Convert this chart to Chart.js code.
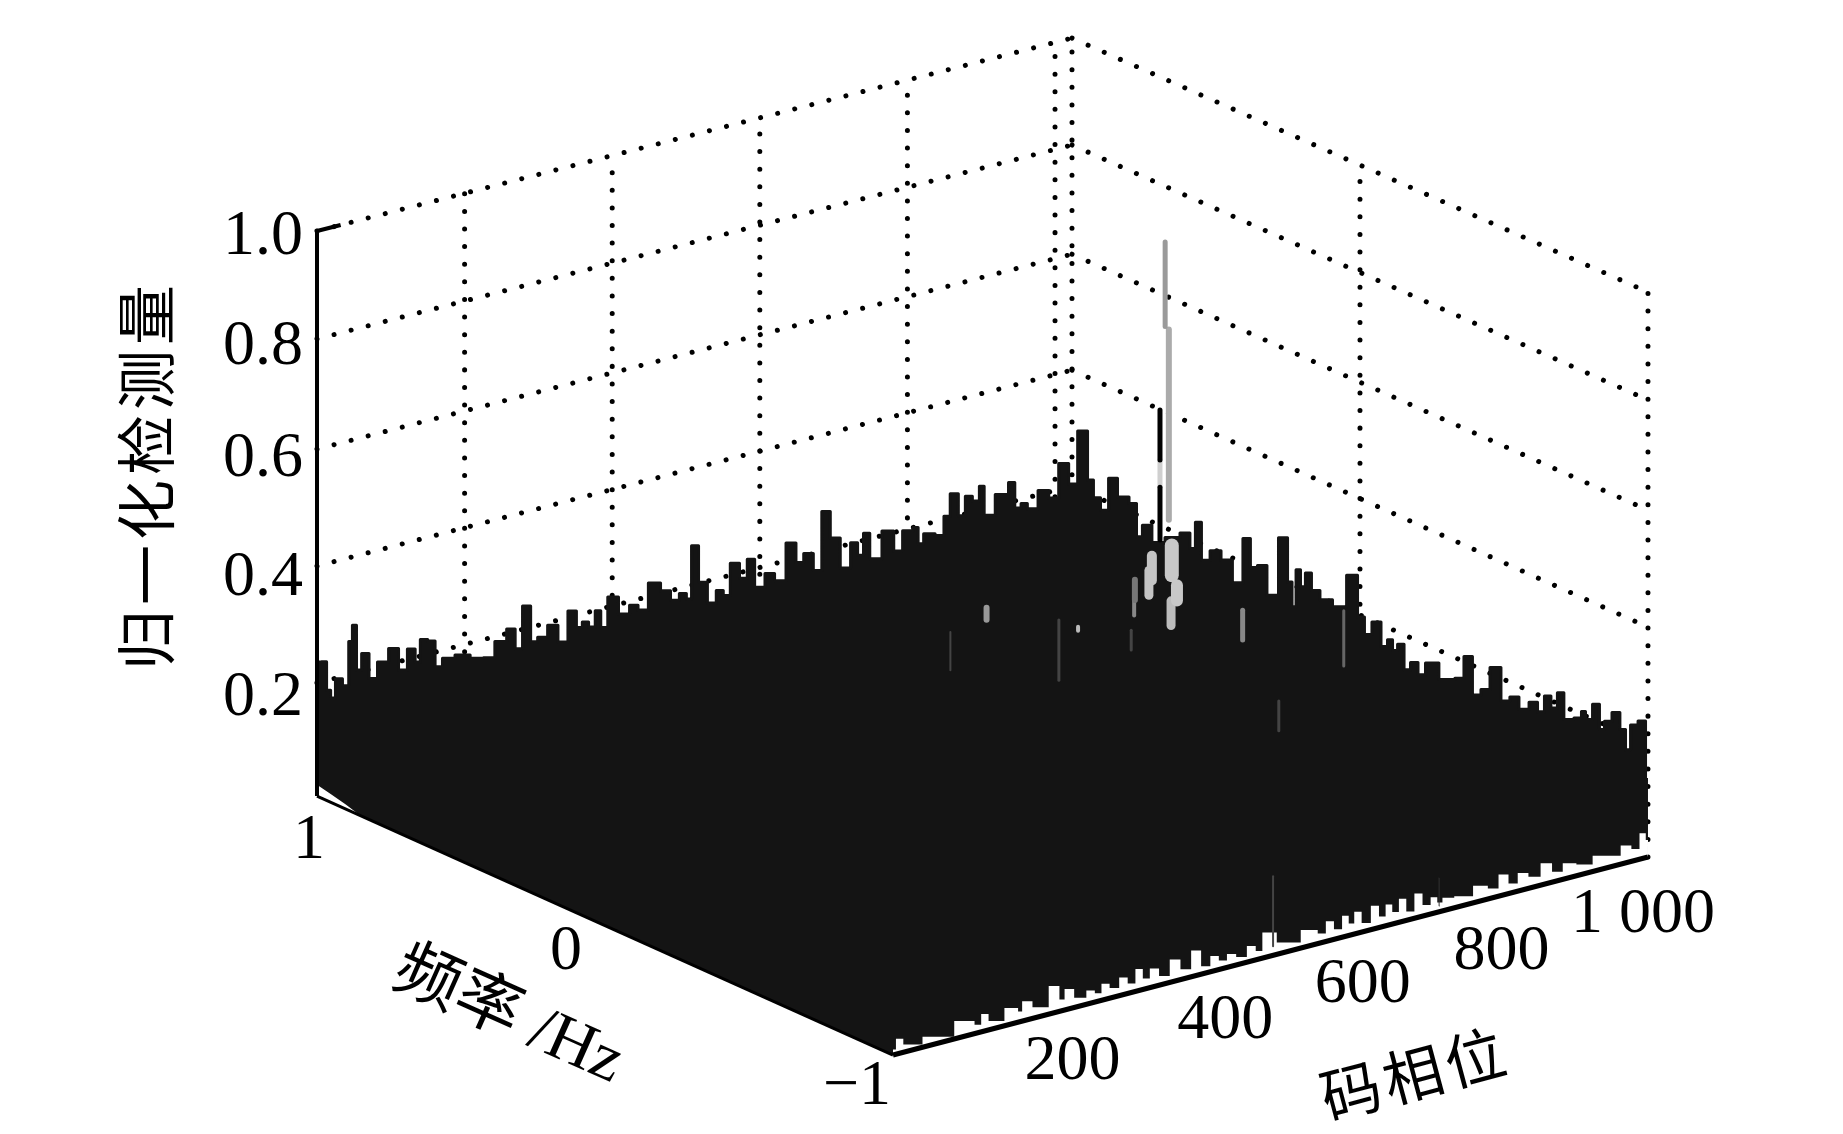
<!DOCTYPE html>
<html>
<head>
<meta charset="utf-8">
<style>
  html, body { margin: 0; padding: 0; background: #fff; }
  canvas { display: block; }
</style>
<script src="https://cdn.jsdelivr.net/npm/chart.js@4"></script>
</head>
<body>
<canvas id="chart" width="1843" height="1134"></canvas>
<script>
/* DATA */

const codeMax = 1023;
const codeTicks = [200, 400, 600, 800, 1000];
const codeTickLabels = ["200", "400", "600", "800", "1 000"];
const freqTicks = [1, 0, -1];
const freqTickLabels = ["1", "0", "\u22121"];

const zTickLevels = [0.2, 0.407, 0.614, 0.809, 1];
const zTickLabels = ["0.2", "0.4", "0.6", "0.8", "1.0"];

// top outline of the surface against the freq = 1 wall
const backCodes = [
  1, 11, 15, 22, 28, 41, 45, 51, 56, 65, 76, 88, 106, 115, 130, 136, 144, 156, 164, 176,
  198, 217, 234, 248, 266, 271, 286, 293, 305, 320, 333, 347, 356, 363, 373, 381, 388, 400, 417, 430,
  440, 458, 473, 485, 497, 504, 511, 523, 535, 547, 554, 566, 579, 587, 599, 615, 625, 646, 652, 667,
  678, 690, 701, 717, 729, 736, 745, 753, 778, 785, 802, 813, 816, 828, 847, 852, 864, 874, 883, 893,
  902, 906, 932, 942, 949, 959, 966, 988, 995, 1015, 1022
];
const backHeights = [
  0.237, 0.234, 0.182, 0.166, 0.198, 0.181, 0.258, 0.285, 0.204, 0.230, 0.182, 0.207, 0.225, 0.184, 0.216, 0.191, 0.228, 0.221, 0.173, 0.184,
  0.182, 0.170, 0.165, 0.189, 0.205, 0.168, 0.239, 0.173, 0.177, 0.193, 0.159, 0.209, 0.177, 0.184, 0.172, 0.198, 0.166, 0.216, 0.180, 0.191,
  0.179, 0.221, 0.202, 0.181, 0.189, 0.177, 0.269, 0.200, 0.159, 0.177, 0.166, 0.219, 0.188, 0.219, 0.165, 0.184, 0.168, 0.228, 0.191, 0.202,
  0.168, 0.269, 0.218, 0.159, 0.200, 0.175, 0.211, 0.163, 0.204, 0.166, 0.196, 0.198, 0.168, 0.182, 0.172, 0.205, 0.241, 0.198, 0.230, 0.218,
  0.241, 0.188, 0.216, 0.234, 0.186, 0.191, 0.179, 0.204, 0.188, 0.243, 0.204
];

// top outline of the surface against the code = 1023 wall
const edgeFreqs = [
  0.958, 0.934, 0.917, 0.885, 0.861, 0.823, 0.781, 0.771, 0.740, 0.705, 0.649, 0.601, 0.580, 0.563, 0.538, 0.503, 0.462, 0.424, 0.389, 0.372,
  0.340, 0.306, 0.260, 0.243, 0.229, 0.215, 0.198, 0.181, 0.156, 0.122, 0.069, 0.024, -0.007, -0.024, -0.059, -0.087, -0.104, -0.122, -0.139, -0.167,
  -0.184, -0.219, -0.236, -0.312, -0.347, -0.375, -0.406, -0.434, -0.469, -0.510, -0.531, -0.573, -0.601, -0.632, -0.649, -0.677, -0.694, -0.722, -0.764, -0.774,
  -0.792, -0.823, -0.840, -0.858, -0.892, -0.913, -0.931, -0.948, -0.983, -1
];
const edgeHeights = [
  0.308, 0.226, 0.198, 0.183, 0.246, 0.221, 0.219, 0.162, 0.190, 0.167, 0.189, 0.208, 0.185, 0.236, 0.174, 0.199, 0.192, 0.160, 0.247, 0.199,
  0.210, 0.165, 0.278, 0.203, 0.162, 0.231, 0.205, 0.233, 0.208, 0.199, 0.199, 0.265, 0.198, 0.171, 0.201, 0.164, 0.180, 0.165, 0.180, 0.141,
  0.158, 0.144, 0.169, 0.157, 0.167, 0.212, 0.151, 0.167, 0.214, 0.164, 0.176, 0.164, 0.183, 0.173, 0.205, 0.190, 0.221, 0.180, 0.192, 0.206,
  0.196, 0.230, 0.189, 0.208, 0.231, 0.206, 0.174, 0.222, 0.237, 0.137
];

// white gap under the surface along the freq = -1 side
const frontCodes = [
  0, 8, 20, 60, 106, 115, 124, 135, 167, 172, 178, 200, 222, 229, 236, 255, 269, 278, 287, 300,
  313, 323, 334, 343, 353, 368, 382, 397, 411, 424, 436, 447, 458, 472, 487, 496, 505, 535, 570, 581,
  592, 603, 614, 621, 629, 641, 654, 663, 672, 681, 690, 701, 712, 723, 734, 741, 748, 773, 799, 813,
  828, 840, 853, 869, 886, 900, 915, 937, 959, 977, 995, 1006, 1017, 1023
];
const frontHeights = [
  0.010, 0.026, 0.012, 0.012, 0.024, 0.014, 0.030, 0.014, 0.026, 0.018, 0.034, 0.016, 0.046, 0.020, 0.036, 0.014, 0.022, 0.014, 0.028, 0.016,
  0.030, 0.016, 0.038, 0.018, 0.032, 0.014, 0.038, 0.016, 0.044, 0.012, 0.026, 0.014, 0.022, 0.012, 0.026, 0.014, 0.044, 0.016, 0.026, 0.016,
  0.034, 0.016, 0.036, 0.020, 0.038, 0.014, 0.040, 0.018, 0.036, 0.020, 0.040, 0.014, 0.042, 0.018, 0.028, 0.016, 0.022, 0.016, 0.026, 0.016,
  0.036, 0.016, 0.030, 0.018, 0.036, 0.016, 0.026, 0.016, 0.024, 0.018, 0.030, 0.020, 0.044, 0.030
];

// underside along the code = 0 side
const sideFreqs = [1, 0.95, 0.9, 0.85];
const sideHeights = [0.02, 0.014, 0.008, 0];

// correlation peak and the pale streaks showing through the mesh
const streakCodes = [759, 764, 752, 752, 752, 768, 775, 767, 741, 737, 718, 864, 713, 517, 468, 615, 717, 641, 1001, 913, 515, 740];
const streakFreqs = [0, 0, 0, 0, 0, 0, 0, 0, 0, 0, 0, 0, 0, 0, 0, 0, 0, 0, 0, 0, -1, -1];
const streakLows = [0.803, 0.458, 0.568, 0.426, 0.520, 0.358, 0.311, 0.269, 0.358, 0.333, 0.331, 0.210, 0.244, 0.365, 0.292, 0.224, 0.304, 0.303, 0.117, 0.032, 0.016, 0.010];
const streakHighs = [0.953, 0.796, 0.657, 0.520, 0.568, 0.411, 0.338, 0.313, 0.402, 0.377, 0.367, 0.263, 0.279, 0.386, 0.360, 0.331, 0.349, 0.310, 0.215, 0.085, 0.140, 0.060];

/* STYLE */

const ink = "#141414";
const serif = '"Liberation Serif", "Noto Sans CJK SC", serif';
const streakColors = ["#9a9a9a", "#ababab", "#000000", "#000000", "#cfcfcf", "#c8c8c8", "#c8c8c8", "#bdbdbd", "#c4c4c4", "#c4c4c4", "#777777", "#888888", "#444444", "#999999", "#444444", "#444444", "#888888", "#bbbbbb", "#666666", "#444444", "#444444", "#333333"];
const streakWidths = [5, 6, 5, 5, 5, 14, 12, 9, 10, 9, 6, 5, 3, 6, 2, 3, 4, 4, 3, 3, 2, 1];

const codeLabelOffsets = [[32, 46], [37, 44], [27, 46], [18, 52], [12, 54]];
const freqLabelOffsets = [[-8, 45], [-39, 27], [-36, 32]];

/* PROJECTION */

function project(code, freq, z){

  const c = code / codeMax;
  const f = (1 - freq) / 2;

  return {
    x: c + f * 0.7629,
    y: 0.0295 + c * 0.3438 - f * 0.4497 + z * 0.9809 * (1 - 0.009 * c * (1 - f))
  };

}

function line(label, from, to, style, order){

  return {
    label,
    data: [project(...from), project(...to)],
    pointRadius: 0,
    order,
    ...style
  };

}

/* DATASETS */

const dotted = {
  borderColor: "#000",
  borderWidth: 5,
  borderCapStyle: "round",
  borderDash: [0.01, 17.6]
};

const datasets = [];

streakCodes.forEach((code, i) => {

  datasets.push(line(
    "streak",
    [code, streakFreqs[i], streakLows[i]],
    [code, streakFreqs[i], streakHighs[i]],
    { borderColor: streakColors[i], borderWidth: streakWidths[i], borderCapStyle: "round" },
    0
  ));

});

datasets.push(line("z axis", [0, 1, 0], [0, 1, 1], { borderColor: "#000", borderWidth: 4 }, 1));
datasets.push(line("z axis top", [0, 1, 1], [32, 1, 1], { borderColor: "#000", borderWidth: 4 }, 1));
datasets.push(line("freq axis", [0, 1, 0], [0, -1, 0], { borderColor: "#000", borderWidth: 3 }, 1));

// gap fills down to the code axis, so the axis has to come right after it
datasets.push({
  label: "front gap",
  data: frontCodes.map((code, i) => project(code, -1, frontHeights[i])),
  stepped: "middle",
  fill: "+1",
  backgroundColor: "#fff",
  borderWidth: 0,
  pointRadius: 0,
  order: 1.5
});

datasets.push(line("code axis", [0, -1, 0], [codeMax, -1, 0], { borderColor: "#000", borderWidth: 5 }, 1));

const surfaceTop = [
  ...backCodes.map((code, i) => project(code, 1, backHeights[i])),
  ...edgeFreqs.map((freq, i) => project(codeMax, freq, edgeHeights[i]))
];

const surfaceBottom = [
  ...sideFreqs.map((freq, i) => project(0, freq, sideHeights[i])),
  project(0, -1, 0),
  project(codeMax, -1, 0)
];

datasets.push({
  label: "surface",
  data: surfaceTop,
  stepped: "middle",
  fill: "+1",
  backgroundColor: ink,
  borderColor: ink,
  borderWidth: 3,
  borderJoinStyle: "round",
  pointRadius: 0,
  order: 2
});

datasets.push({
  label: "surface underside",
  data: surfaceBottom,
  fill: false,
  borderWidth: 0,
  pointRadius: 0,
  order: 3
});

zTickLevels.forEach(z => {

  datasets.push(line("back wall", [0, 1, z], [codeMax, 1, z], dotted, 5));
  datasets.push(line("side wall", [codeMax, 1, z], [codeMax, -1, z], dotted, 5));

});

codeTicks.forEach(code => {

  datasets.push(line("code grid", [code, 1, 0], [code, 1, 1], dotted, 5));

});

freqTicks.forEach(freq => {

  datasets.push(line("freq grid", [codeMax, freq, 0], [codeMax, freq, 1], dotted, 5));

});

/* AXIS TEXT */

function drawText(ctx, text, x, y, font, angle = 0, spacing = "0px"){

  ctx.save();
  ctx.translate(x, y);
  ctx.rotate(angle * Math.PI / 180);
  ctx.font = font;
  ctx.letterSpacing = spacing;
  ctx.fillStyle = "#000";
  ctx.textAlign = "center";
  ctx.textBaseline = "middle";
  ctx.fillText(text, 0, 0);
  ctx.restore();

}

const axisText = {

  id: "axisText",

  afterDraw(chart){

    const { ctx, scales } = chart;
    const toPixel = p => [scales.x.getPixelForValue(p.x), scales.y.getPixelForValue(p.y)];
    const tickFont = '64px ' + serif;

    codeTicks.forEach((code, i) => {

      const [x, y] = toPixel(project(code, -1, 0));
      drawText(ctx, codeTickLabels[i], x + codeLabelOffsets[i][0], y + codeLabelOffsets[i][1], tickFont);

    });

    freqTicks.forEach((freq, i) => {

      const [x, y] = toPixel(project(0, freq, 0));
      drawText(ctx, freqTickLabels[i], x + freqLabelOffsets[i][0], y + freqLabelOffsets[i][1], tickFont);

    });

    drawText(ctx, "归一化检测量", 153, 475, '60px ' + serif, -90, "5px");

    const [fx, fy] = toPixel(project(0, 0, 0));
    drawText(ctx, "频率 /Hz", fx - 97, fy + 92, '66px ' + serif, 24);

    const [cx, cy] = toPixel(project(codeMax * 0.7, -1, 0));
    drawText(ctx, "码相位", cx - 5, cy + 164, '60px ' + serif, -15, "4px");

  }

};

/* CHART */

new Chart(document.getElementById("chart"), {

  type: "line",

  data: { datasets },

  plugins: [axisText],

  options: {

    responsive: false,
    animation: false,
    events: [],
    layout: { padding: 0 },

    plugins: {
      legend: { display: false },
      tooltip: { enabled: false },
      filler: { propagate: false }
    },

    scales: {

      x: {
        type: "linear",
        display: false,
        bounds: "data",
        min: -0.00662,
        max: 2.0212
      },

      y: {
        type: "linear",
        bounds: "data",
        min: -0.5573,
        max: 1.4115,
        grid: { display: false, drawTicks: false },
        border: { display: false },
        afterFit: scale => {
          scale.width = 312;
          scale.paddingTop = 0;
          scale.paddingBottom = 0;
        },
        afterBuildTicks: scale => {
          scale.ticks = zTickLevels.map(value => ({ value }));
        },
        ticks: {
          autoSkip: false,
          padding: 9,
          color: "#000",
          font: { family: serif, size: 64 },
          callback: (value, index) => zTickLabels[index]
        }
      }

    }

  }

});
</script>
</body>
</html>
